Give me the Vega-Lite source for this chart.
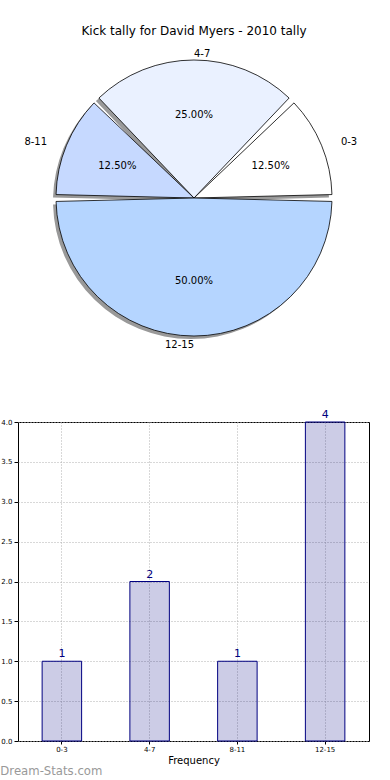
{
  "$schema": "https://vega.github.io/schema/vega-lite/v6.json",
  "padding": {"left": 0, "top": 25, "right": 0, "bottom": 0},
  "spacing": 41,
  "background": "white",
  "config": {"view": {"stroke": null}, "font": "DejaVu Sans"},
  "title": {"text": "Dream-Stats.com", "orient": "bottom", "anchor": "start", "frame": "bounds", "color": "#999999", "fontSize": 11.7, "font": "DejaVu Sans", "fontWeight": "normal", "offset": 0},
  "datasets": {
    "tally": [
      {"range": "0-3", "count": 1, "share": 0.125},
      {"range": "4-7", "count": 2, "share": 0.25},
      {"range": "8-11", "count": 1, "share": 0.125},
      {"range": "12-15", "count": 4, "share": 0.5}
    ]
  },
  "vconcat": [
    {
      "width": 352,
      "height": 320,
      "title": {"text": "Kick tally for David Myers - 2010 tally", "fontSize": 12, "font": "DejaVu Sans", "fontWeight": "normal", "color": "black", "offset": 0, "frame": "group"},
      "data": {"name": "tally"},
      "transform": [{"window": [{"op": "row_number", "as": "k"}]}],
      "encoding": {
        "theta": {"field": "count", "type": "quantitative", "stack": true, "scale": {"range": [1.5708, -4.7124]}},
        "order": {"field": "k", "type": "quantitative"}
      },
      "layer": [
        {"mark": {"type": "arc", "radius": 138, "padAngle": 0.05, "fill": "#999999", "xOffset": -3, "yOffset": 3}},
        {
          "mark": {"type": "arc", "radius": 138, "padAngle": 0.05, "stroke": "black", "strokeWidth": 0.8},
          "encoding": {"color": {"field": "range", "type": "nominal", "scale": {"domain": ["0-3", "4-7", "8-11", "12-15"], "range": ["#ffffff", "#eaf1ff", "#c6d9ff", "#b5d5ff"]}, "legend": null}}
        },
        {
          "mark": {"type": "text", "radius": 83, "fontSize": 10, "font": "DejaVu Sans", "color": "black"},
          "encoding": {"text": {"field": "share", "type": "quantitative", "format": ".2%"}}
        },
        {
          "mark": {"type": "text", "radius": 159, "dy": 5, "fontSize": 10, "font": "DejaVu Sans", "align": "left", "baseline": "middle", "color": "black"},
          "encoding": {"text": {"condition": {"test": "datum.range === '0-3'", "field": "range"}, "value": ""}}
        },
        {
          "mark": {"type": "text", "radius": 144, "fontSize": 10, "font": "DejaVu Sans", "align": "left", "baseline": "middle", "color": "black"},
          "encoding": {"text": {"condition": {"test": "datum.range === '4-7'", "field": "range"}, "value": ""}}
        },
        {
          "mark": {"type": "text", "radius": 159, "dy": 5, "fontSize": 10, "font": "DejaVu Sans", "align": "right", "baseline": "middle", "color": "black"},
          "encoding": {"text": {"condition": {"test": "datum.range === '8-11'", "field": "range"}, "value": ""}}
        },
        {
          "mark": {"type": "text", "radius": 147, "fontSize": 10, "font": "DejaVu Sans", "align": "right", "baseline": "middle", "color": "black"},
          "encoding": {"text": {"condition": {"test": "datum.range === '12-15'", "field": "range"}, "value": ""}}
        }
      ]
    },
    {
      "width": 351,
      "height": 319,
      "view": {"stroke": "black", "strokeWidth": 1},
      "data": {"name": "tally"},
      "encoding": {
        "x": {
          "field": "range", "type": "ordinal", "sort": ["0-3", "4-7", "8-11", "12-15"],
          "scale": {"paddingInner": 0.55, "paddingOuter": 0.275},
          "axis": {"title": "Frequency", "titleFontSize": 10, "titleFontWeight": "normal", "titleFont": "DejaVu Sans", "titleColor": "black", "titlePadding": 3,
                   "labelAngle": 0, "labelFontSize": 7, "labelFont": "DejaVu Sans", "labelColor": "black", "labelPadding": 1,
                   "grid": true, "gridDash": [1, 2], "gridColor": "#b0b0b0", "bandPosition": 0.5, "domain": false, "ticks": true, "tickSize": 3, "tickColor": "black"}
        },
        "y": {
          "field": "count", "type": "quantitative", "scale": {"domain": [0, 4]},
          "axis": {"title": null, "values": [0, 0.5, 1, 1.5, 2, 2.5, 3, 3.5, 4], "format": ".1f", "labelFontSize": 7, "labelFont": "DejaVu Sans", "labelColor": "black", "labelPadding": 2,
                   "grid": true, "gridDash": [1, 2], "gridColor": "#b0b0b0", "domain": false, "ticks": true, "tickSize": 4, "tickColor": "black"}
        }
      },
      "layer": [
        {"mark": {"type": "bar", "fill": "#000080", "fillOpacity": 0.2, "stroke": "#000080", "strokeWidth": 1}},
        {"mark": {"type": "text", "baseline": "bottom", "dy": -2, "color": "#000080", "fontSize": 11, "font": "DejaVu Sans"}, "encoding": {"text": {"field": "count", "type": "quantitative"}}}
      ]
    }
  ]
}
